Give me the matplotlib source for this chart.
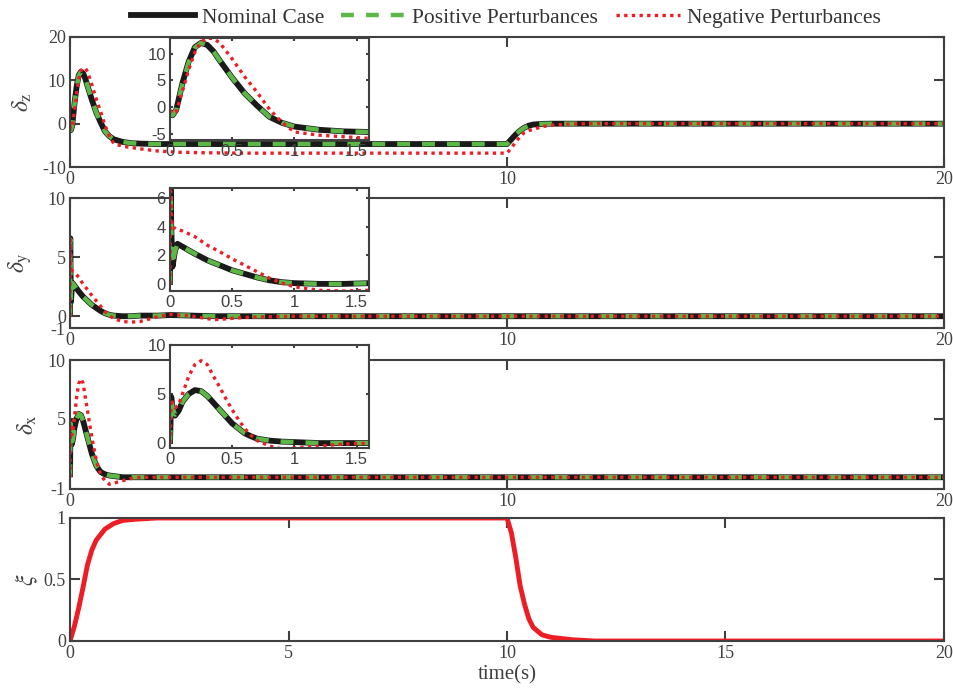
import matplotlib
matplotlib.use("Agg")
import matplotlib.pyplot as plt
from matplotlib.lines import Line2D

plt.rcParams['font.family'] = ['Liberation Serif', 'DejaVu Serif']
plt.rcParams['mathtext.fontset'] = 'stix'

GRAY = '#404040'
BLACK = '#1a1a1a'
GREEN = '#5cb846'
RED = '#ee1d25'

#######################################################################################
# values
t_z = [0, 0.02, 0.05, 0.1, 0.15, 0.2, 0.25, 0.3, 0.35, 0.4, 0.5, 0.6, 0.7, 0.8, 0.9, 1.0,
       1.2, 1.4, 1.6, 2.0, 2.5, 3.0, 4.0, 10.0, 10.1, 10.2, 10.3, 10.4, 10.5, 10.6, 10.8,
       11.0, 11.5, 12.0, 20.0]
dz_nominal = [-0.9, -1.5, -0.5, 4.5, 8.5, 11.2, 12.0, 11.6, 10.4, 8.7, 5.5, 2.6, 0.3, -1.8,
              -2.9, -3.6, -4.2, -4.5, -4.6, -4.7, -4.7, -4.7, -4.7, -4.7, -3.6, -2.5, -1.6,
              -0.9, -0.45, -0.2, -0.05, 0.0, 0.0, 0.0, 0.0]
dz_positive = [-0.9, -1.5, -0.5, 4.4, 8.4, 11.1, 12.0, 11.6, 10.4, 8.7, 5.5, 2.6, 0.3, -1.8,
               -2.9, -3.6, -4.2, -4.5, -4.6, -4.7, -4.7, -4.7, -4.7, -4.7, -3.6, -2.5, -1.6,
               -0.9, -0.45, -0.2, -0.05, 0.0, 0.0, 0.0, 0.0]
dz_negative = [-0.5, -1.2, -0.8, 3.0, 7.0, 10.3, 12.2, 12.9, 12.8, 12.0, 9.0, 5.7, 2.8, -0.4,
               -2.8, -4.6, -5.2, -5.5, -5.8, -6.3, -6.6, -6.7, -6.8, -6.8, -5.6, -4.2, -3.0,
               -2.0, -1.6, -1.3, -0.7, -0.35, -0.05, 0.0, 0.0]

t_y = [0, 0.005, 0.01, 0.02, 0.04, 0.06, 0.1, 0.2, 0.3, 0.4, 0.5, 0.6, 0.7, 0.8, 0.9, 1.0,
       1.2, 1.4, 1.6, 2.0, 2.3, 2.8, 3.3, 4.0, 5.0, 20.0]
dy_nominal = [0, 6.6, 4.0, 1.2, 2.3, 2.8, 2.6, 2.1, 1.65, 1.3, 0.95, 0.7, 0.45, 0.25, 0.12,
              0.05, 0.0, 0.0, 0.05, 0.05, 0.1, 0.05, 0.0, 0.0, 0.0, 0.0]
dy_positive = [0, 6.5, 4.0, 1.3, 2.3, 2.8, 2.6, 2.1, 1.65, 1.3, 0.95, 0.7, 0.45, 0.25, 0.12,
               0.05, 0.0, 0.0, 0.05, 0.05, 0.1, 0.05, 0.0, 0.0, 0.0, 0.0]
dy_negative = [0, 6.5, 5.0, 3.9, 3.9, 3.8, 3.7, 3.3, 2.7, 2.25, 1.75, 1.3, 0.85, 0.4, 0.05,
               -0.2, -0.45, -0.5, -0.45, -0.05, 0.15, 0.0, -0.3, -0.1, 0.0, 0.0]

t_x = [0, 0.01, 0.02, 0.04, 0.07, 0.1, 0.15, 0.2, 0.25, 0.3, 0.35, 0.4, 0.45, 0.5, 0.55, 0.6,
       0.65, 0.7, 0.8, 0.9, 1.0, 1.1, 1.2, 1.4, 1.6, 2.0, 20.0]
dx_nominal = [0, 4.7, 3.6, 2.8, 3.3, 4.2, 5.0, 5.4, 5.3, 4.8, 4.1, 3.4, 2.7, 2.0, 1.5, 1.0,
              0.7, 0.45, 0.25, 0.15, 0.1, 0.05, 0.0, 0.0, 0.0, 0.0, 0.0]
dx_positive = [0, 4.6, 3.6, 2.9, 3.3, 4.2, 5.0, 5.4, 5.3, 4.8, 4.1, 3.4, 2.7, 2.0, 1.5, 1.0,
               0.7, 0.45, 0.25, 0.15, 0.1, 0.05, 0.0, 0.0, 0.0, 0.0, 0.0]
dx_negative = [0, 4.5, 4.0, 3.6, 3.9, 5.0, 6.8, 8.0, 8.4, 8.0, 6.8, 5.7, 4.5, 3.4, 2.4, 1.5,
               0.8, 0.25, -0.3, -0.6, -0.5, -0.4, -0.3, -0.1, 0.0, 0.0, 0.0]

t_xi = [0, 0.1, 0.2, 0.3, 0.4, 0.5, 0.6, 0.8, 1.0, 1.2, 1.5, 2.0, 10.0, 10.1, 10.2, 10.3,
        10.4, 10.5, 10.6, 10.8, 11.0, 11.5, 12.0, 20.0]
xi = [0, 0.12, 0.27, 0.44, 0.62, 0.74, 0.82, 0.91, 0.955, 0.98, 0.99, 1.0, 1.0, 0.88, 0.68,
      0.45, 0.3, 0.18, 0.11, 0.05, 0.03, 0.01, 0.0, 0.0]

labels = ["Nominal Case", "Positive Perturbances", "Negative Perturbances"]
#######################################################################################

def style_axes(ax, ticklen, fontfamily, fontsize):
    for s in ax.spines.values():
        s.set_color(GRAY)
        s.set_linewidth(1.5)
    ax.tick_params(direction='in', top=True, right=True, length=ticklen, width=1.5,
                   colors=GRAY, labelsize=fontsize, pad=3)
    for lab in ax.get_xticklabels() + ax.get_yticklabels():
        lab.set_family(fontfamily)

def draw_three(ax, t, nom, pos, neg):
    ax.plot(t, nom, color=BLACK, lw=4.2, solid_capstyle='butt')
    ax.plot(t, pos, color=GREEN, lw=3.2, dashes=(2.9, 2.7), dash_capstyle='butt')
    ax.plot(t, neg, color=RED, lw=2.4, dashes=(1.0, 1.3), dash_capstyle='butt')

fig = plt.figure(figsize=(9.54, 6.89), dpi=100)

main_pos = [[0.0734, 0.7576, 0.9161, 0.1887],
            [0.0734, 0.5239, 0.9161, 0.1887],
            [0.0734, 0.2903, 0.9161, 0.1872],
            [0.0734, 0.0697, 0.9161, 0.1785]]
inset_pos = [[0.1782, 0.7968, 0.2086, 0.1480],
             [0.1782, 0.5776, 0.2086, 0.1495],
             [0.1782, 0.3498, 0.2086, 0.1495]]

series = [(t_z, dz_nominal, dz_positive, dz_negative),
          (t_y, dy_nominal, dy_positive, dy_negative),
          (t_x, dx_nominal, dx_positive, dx_negative)]
ylims = [(-10, 20), (-1, 10), (-1, 10)]
yticks = [[-10, 0, 10, 20], [-1, 0, 5, 10], [-1, 5, 10]]
ylabels = [r'$\delta_{\rm z}$', r'$\delta_{\rm y}$', r'$\delta_{\rm x}$']
label_x = [-0.041, -0.041, -0.035]
inset_ylims = [(-6.1, 12.9), (-0.5, 6.7), (-0.5, 10)]
inset_yticks = [[-5, 0, 5, 10], [0, 2, 4, 6], [0, 5, 10]]

for i in range(3):
    ax = fig.add_axes(main_pos[i])
    draw_three(ax, *series[i])
    ax.set_xlim(0, 20)
    ax.set_ylim(*ylims[i])
    ax.set_xticks([0, 10, 20])
    ax.set_yticks(yticks[i])
    ax.set_yticklabels([str(v) for v in yticks[i]])
    style_axes(ax, 7, 'Liberation Serif', 13)
    ax.set_ylabel(ylabels[i], fontsize=17, color=GRAY)
    ax.yaxis.set_label_coords(label_x[i], 0.5)

    ins = fig.add_axes(inset_pos[i])
    draw_three(ins, *series[i])
    ins.set_xlim(0, 1.6)
    ins.set_ylim(*inset_ylims[i])
    ins.set_xticks([0, 0.5, 1, 1.5])
    ins.set_xticklabels(['0', '0.5', '1', '1.5'])
    ins.set_yticks(inset_yticks[i])
    ins.set_yticklabels([str(v) for v in inset_yticks[i]])
    style_axes(ins, 2.5, 'Liberation Sans', 12)

ax4 = fig.add_axes(main_pos[3])
ax4.plot(t_xi, xi, color=RED, lw=3.5)
ax4.set_xlim(0, 20)
ax4.set_ylim(0, 1)
ax4.set_xticks([0, 5, 10, 15, 20])
ax4.set_yticks([0, 0.5, 1])
ax4.set_yticklabels(['0', '0.5', '1'])
style_axes(ax4, 7, 'Liberation Serif', 13)
ax4.set_ylabel(r'$\xi$', fontsize=17, color=GRAY)
ax4.yaxis.set_label_coords(-0.034, 0.5)
ax4.set_xlabel('time(s)', fontsize=15, color=GRAY, labelpad=2)

handles = [Line2D([], [], color=BLACK, lw=4.2),
           Line2D([], [], color=GREEN, lw=3.2, dashes=(2.9, 2.7)),
           Line2D([], [], color=RED, lw=2.4, dashes=(1.0, 1.3))]
leg = fig.legend(handles, labels, loc='center', bbox_to_anchor=(0.53, 0.974), ncol=3,
                 frameon=False, fontsize=15.5, handlelength=3.0, handletextpad=0.3,
                 columnspacing=0.8)
for txt in leg.get_texts():
    txt.set_color('#333333')

fig.savefig('out.png', dpi=100)
